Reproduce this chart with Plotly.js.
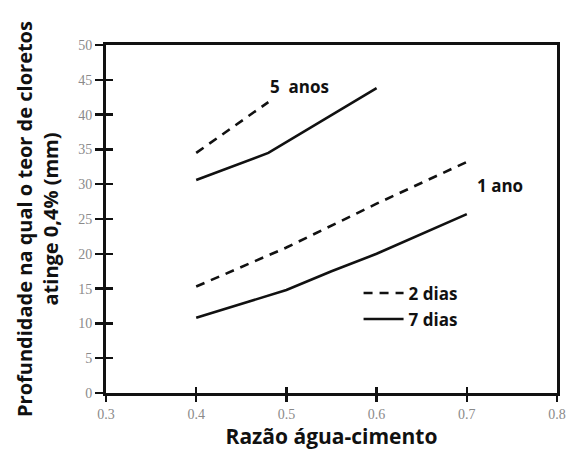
<!DOCTYPE html>
<html>
<head>
<meta charset="utf-8">
<script src="https://cdn.plot.ly/plotly-3.0.1.min.js"></script>
<style>html,body{margin:0;padding:0;background:#fff;}#chart{width:566px;height:451px;}</style>
</head>
<body>
<div id="chart"></div>
<script>
// Data (water-cement ratio vs depth in mm)
const ratio5anos2dias = [0.4, 0.48];
const depth5anos2dias = [34.5, 41.8];
const ratio5anos7dias = [0.4, 0.48, 0.6];
const depth5anos7dias = [30.6, 34.5, 43.8];
const ratio1ano2dias = [0.4, 0.5, 0.6, 0.7];
const depth1ano2dias = [15.3, 20.9, 27.2, 33.2];
const ratio1ano7dias = [0.4, 0.5, 0.55, 0.6, 0.7];
const depth1ano7dias = [10.8, 14.8, 17.5, 20.0, 25.7];

const xTicks = [0.3, 0.4, 0.5, 0.6, 0.7, 0.8];
const xTickText = ['0.3', '0.4', '0.5', '0.6', '0.7', '0.8'];
const yTicks = [0, 5, 10, 15, 20, 25, 30, 35, 40, 45, 50];

const seriesNames = ['2 dias', '7 dias'];
const curveLabels = ['5\u00A0 anos', '1 ano'];

const dashStyle = '9px,7px';
const lineW = 2.6;
const ink = '#111111';
const boldFont = '"Open Sans", Lato, sans-serif';

const traces = [
  {x: ratio1ano2dias, y: depth1ano2dias, name: seriesNames[0], legendgroup: 'd2', showlegend: true,
   mode: 'lines', line: {color: ink, width: lineW, dash: dashStyle}},
  {x: ratio5anos2dias, y: depth5anos2dias, name: seriesNames[0], legendgroup: 'd2', showlegend: false,
   mode: 'lines', line: {color: ink, width: lineW, dash: dashStyle}},
  {x: ratio1ano7dias, y: depth1ano7dias, name: seriesNames[1], legendgroup: 'd7', showlegend: true,
   mode: 'lines', line: {color: ink, width: lineW}},
  {x: ratio5anos7dias, y: depth5anos7dias, name: seriesNames[1], legendgroup: 'd7', showlegend: false,
   mode: 'lines', line: {color: ink, width: lineW}},
  {x: [], y: [], xaxis: 'x2', yaxis: 'y2', showlegend: false, hoverinfo: 'skip', mode: 'lines'}
];

const tickFont = {family: '"Liberation Serif", "DejaVu Serif", serif', size: 14, color: '#8a8a8a'};

const layout = {
  width: 566, height: 451,
  margin: {l: 106, r: 9, t: 45, b: 58},
  paper_bgcolor: '#fff', plot_bgcolor: '#fff',
  showlegend: true,
  legend: {
    x: 0.56, y: 0.338, xanchor: 'left', yanchor: 'top',
    bgcolor: 'rgba(0,0,0,0)', borderwidth: 0,
    font: {family: boldFont, size: 17, color: ink, weight: 700},
    traceorder: 'grouped', tracegroupgap: 1,
    itemwidth: 40
  },
  xaxis: {
    range: [0.3, 0.8], tickvals: xTicks, ticktext: xTickText,
    showgrid: false, zeroline: false,
    showline: true, linecolor: ink, linewidth: 3, mirror: true,
    ticks: 'outside', ticklen: 6, tickwidth: 2.5, tickcolor: ink,
    tickfont: tickFont,
    title: {text: 'Razão água-cimento', font: {family: boldFont, size: 21, color: ink, weight: 700}, standoff: 2}
  },
  yaxis: {
    range: [0, 50], tickvals: yTicks,
    showgrid: false, zeroline: false,
    showline: true, linecolor: ink, linewidth: 3, mirror: true,
    ticks: 'outside', ticklen: 8, tickwidth: 2.5, tickcolor: ink,
    tickfont: tickFont,
    title: {text: 'Profundidade na qual o teor de cloretos<br>atinge 0,4% (mm)', font: {family: boldFont, size: 20, color: ink, weight: 700}, standoff: 15}
  },
  xaxis2: {
    overlaying: 'x', anchor: 'y2', range: [0.3, 0.8], tickvals: xTicks,
    showgrid: false, zeroline: false, showline: false, showticklabels: false,
    ticks: 'inside', ticklen: 6, tickwidth: 2.5, tickcolor: ink
  },
  yaxis2: {
    overlaying: 'y', anchor: 'x2', range: [0, 50], tickvals: yTicks,
    showgrid: false, zeroline: false, showline: false, showticklabels: false,
    ticks: 'inside', ticklen: 7, tickwidth: 2.5, tickcolor: ink
  },
  annotations: [
    {text: curveLabels[0], xref: 'paper', yref: 'paper', x: 0.43, y: 0.882,
     xanchor: 'center', yanchor: 'middle', showarrow: false,
     font: {family: boldFont, size: 17, color: ink, weight: 700}},
    {text: curveLabels[1], xref: 'paper', yref: 'paper', x: 0.874, y: 0.595,
     xanchor: 'center', yanchor: 'middle', showarrow: false,
     font: {family: boldFont, size: 17, color: ink, weight: 700}}
  ]
};

Plotly.newPlot('chart', traces, layout, {displayModeBar: false, staticPlot: true});
</script>
</body>
</html>
